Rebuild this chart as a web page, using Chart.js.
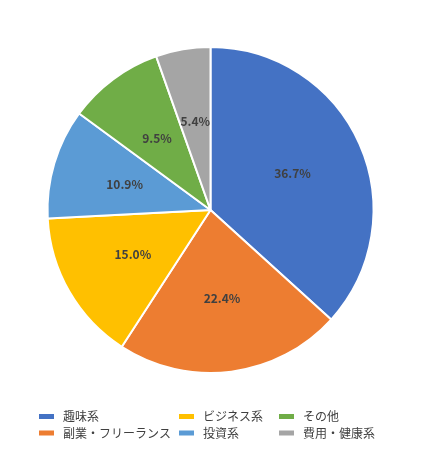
<!DOCTYPE html>
<html>
<head>
<meta charset="utf-8">
<script src="https://cdn.jsdelivr.net/npm/chart.js@4"></script>
<style>
  html, body { margin: 0; padding: 0; background: #fff; }
</style>
</head>
<body>
<canvas id="pie-chart" width="422" height="450"></canvas>
<script>
// data
var categories = ['趣味系', '副業・フリーランス', 'ビジネス系', '投資系', 'その他', '費用・健康系'];
var shares = [36.7, 22.4, 15.0, 10.9, 9.5, 5.4];
var sliceColors = ['#4472C4', '#ED7D31', '#FFC000', '#5B9BD5', '#70AD47', '#A5A5A5'];
// legend is laid out column by column, 2 rows
var legendCols = [48, 188, 288];
var legendRows = [416.5, 433];

var textColor = '#404040';
var jpFont = '"Noto Sans CJK JP", "Noto Sans", sans-serif';

// percentage labels inside the slices
var sliceLabels = {
    id: 'sliceLabels',
    afterDatasetsDraw: function (chart) {
        var ctx = chart.ctx;
        var meta = chart.getDatasetMeta(0);
        ctx.save();
        ctx.font = 'bold 12px ' + jpFont;
        ctx.fillStyle = textColor;
        ctx.textAlign = 'center';
        ctx.textBaseline = 'middle';
        meta.data.forEach(function (arc, i) {
            var p = arc.getProps(['x', 'y', 'startAngle', 'endAngle', 'outerRadius'], true);
            var mid = (p.startAngle + p.endAngle) / 2;
            var r = p.outerRadius * 0.55;
            ctx.fillText(shares[i].toFixed(1) + '%', p.x + Math.cos(mid) * r, p.y + Math.sin(mid) * r);
        });
        ctx.restore();
    }
};

// legend in 3 columns x 2 rows, filled column first
var gridLegend = {
    id: 'gridLegend',
    afterDraw: function (chart) {
        var ctx = chart.ctx;
        ctx.save();
        ctx.font = '12px ' + jpFont;
        ctx.textBaseline = 'middle';
        ctx.textAlign = 'left';
        categories.forEach(function (name, i) {
            var x = legendCols[Math.floor(i / 2)] - 9;
            var y = legendRows[i % 2];
            ctx.fillStyle = sliceColors[i];
            ctx.fillRect(x, y - 2.5, 15, 5);
            ctx.fillStyle = textColor;
            ctx.fillText(name, x + 24, y);
        });
        ctx.restore();
    }
};

var ctxPie = document.querySelector('#pie-chart').getContext('2d');

var pieChart = new Chart(ctxPie, {
    type: 'pie',
    data: {
        labels: categories,
        datasets: [{
            data: shares,
            backgroundColor: sliceColors,
            borderColor: '#ffffff',
            borderWidth: 2
        }]
    },
    options: {
        responsive: false,
        animation: false,
        devicePixelRatio: 1,
        layout: {
            padding: { top: 46, bottom: 76, left: 46, right: 47 }
        },
        plugins: {
            legend: { display: false },
            tooltip: { enabled: false }
        }
    },
    plugins: [sliceLabels, gridLegend]
});
</script>
</body>
</html>
